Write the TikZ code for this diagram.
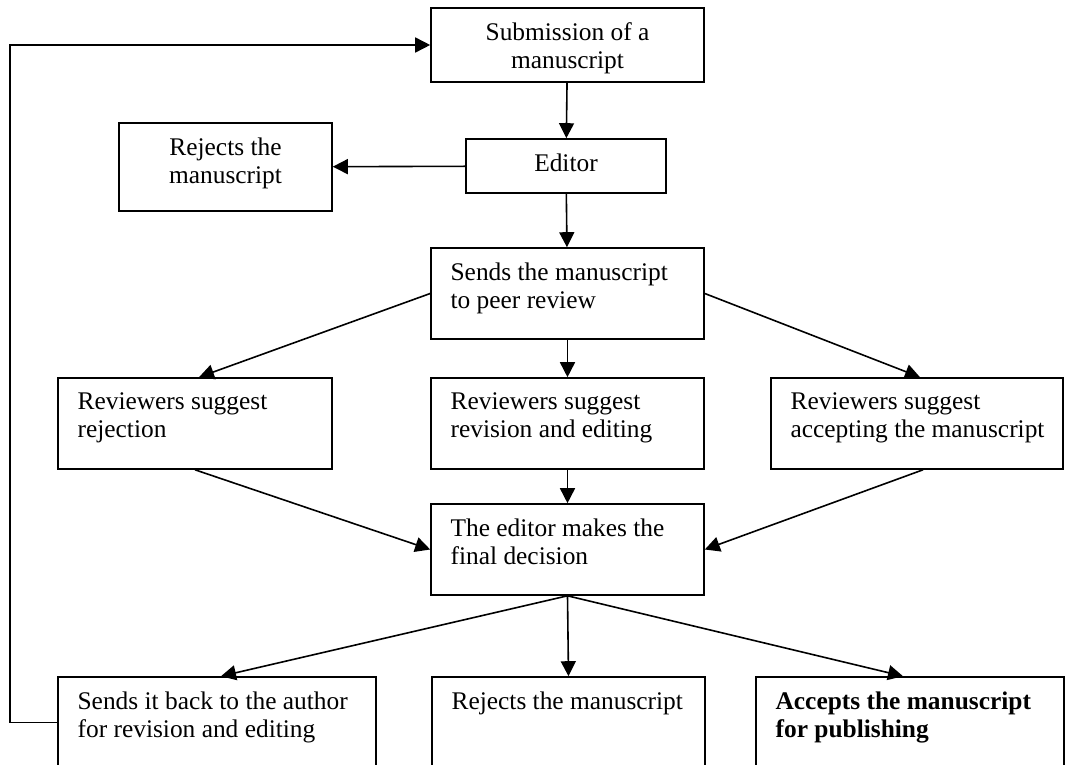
\documentclass[tikz,border=0pt]{standalone}
\usepackage{fontspec}
\setmainfont{Liberation Serif}
\usetikzlibrary{fit,arrows.meta}
\begin{document}
\begin{tikzpicture}[x=0.5pt,y=-0.5pt,
  box/.style={draw, line width=0.8pt, inner sep=0pt, rectangle},
  txt/.style={inner sep=0pt, align=left, anchor=north west, font=\fontsize{12.7pt}{14pt}\selectfont},
  ctxt/.style={inner sep=0pt, align=center, anchor=north, font=\fontsize{12.7pt}{14pt}\selectfont},
  arr/.style={line width=0.8pt, -{Triangle[length=7.5pt,width=7.5pt]}}]
\useasboundingbox (0,0) rectangle (1066,765);
\clip (0,0) rectangle (1066,765);
% boxes
\node[box, fit={(431,8) (704,82)}] (sub) {};
\node[box, fit={(466,139) (666,193)}] (edi) {};
\node[box, fit={(119,123) (332,211)}] (rej1) {};
\node[box, fit={(431,248) (704,339)}] (send) {};
\node[box, fit={(58,378) (332,469)}] (rrej) {};
\node[box, fit={(431,378) (704,469)}] (rrev) {};
\node[box, fit={(771,378) (1063,469)}] (racc) {};
\node[box, fit={(431,504) (704,595)}] (fin) {};
\node[box, fit={(58,677) (376,768)}] (back) {};
\node[box, fit={(432,677) (705,768)}] (rej2) {};
\node[box, fit={(756,677) (1064,768)}] (acc) {};
% texts
\node[ctxt] (subt) at ([yshift=-7.5pt]sub.north) {Submission of a\\manuscript};
\node[ctxt] (edit) at ([yshift=-7.5pt]edi.north) {Editor};
\node[ctxt] (rej1t) at ([yshift=-7.5pt]rej1.north) {Rejects the\\manuscript};
\node[txt] (sendt) at ([xshift=10pt,yshift=-7.5pt]send.north west) {Sends the manuscript\\to peer review};
\node[txt] (rrejt) at ([xshift=10pt,yshift=-7.5pt]rrej.north west) {Reviewers suggest\\rejection};
\node[txt] (rrevt) at ([xshift=10pt,yshift=-7.5pt]rrev.north west) {Reviewers suggest\\revision and editing};
\node[txt] (racct) at ([xshift=10pt,yshift=-7.5pt]racc.north west) {Reviewers suggest\\accepting the manuscript};
\node[txt] (fint) at ([xshift=10pt,yshift=-7.5pt]fin.north west) {The editor makes the\\final decision};
\node[txt] (backt) at ([xshift=10pt,yshift=-7.5pt]back.north west) {Sends it back to the author\\for revision and editing};
\node[txt] (rej2t) at ([xshift=10pt,yshift=-7.5pt]rej2.north west) {Rejects the manuscript};
\node[txt, font=\fontsize{12.7pt}{14pt}\selectfont\bfseries] (acct) at ([xshift=10pt,yshift=-7.5pt]acc.north west) {Accepts the manuscript\\for publishing};
% connectors
\draw[arr] (sub) -- (edi);
\draw[arr] (edi) -- (rej1);
\draw[arr] (edi) -- (send);
\draw[arr] (send.west) -- ([xshift=2pt]rrej.north);
\draw[arr] (send) -- (rrev);
\draw[arr] (send.east) -- ([xshift=1.5pt]racc.north);
\draw[arr] (rrej.south) -- (fin.west);
\draw[arr] (rrev) -- (fin);
\draw[arr] ([xshift=3pt]racc.south) -- (fin.east);
\draw[arr] (fin.south) -- ([xshift=2pt]back.north);
\draw[arr] (fin.south) -- (rej2.north);
\draw[arr] (fin.south) -- ([xshift=-3.5pt]acc.north);
\coordinate (lp) at (10,45);
\draw[arr] (back.west) -| (lp) -- (sub.west);
\end{tikzpicture}
\end{document}
